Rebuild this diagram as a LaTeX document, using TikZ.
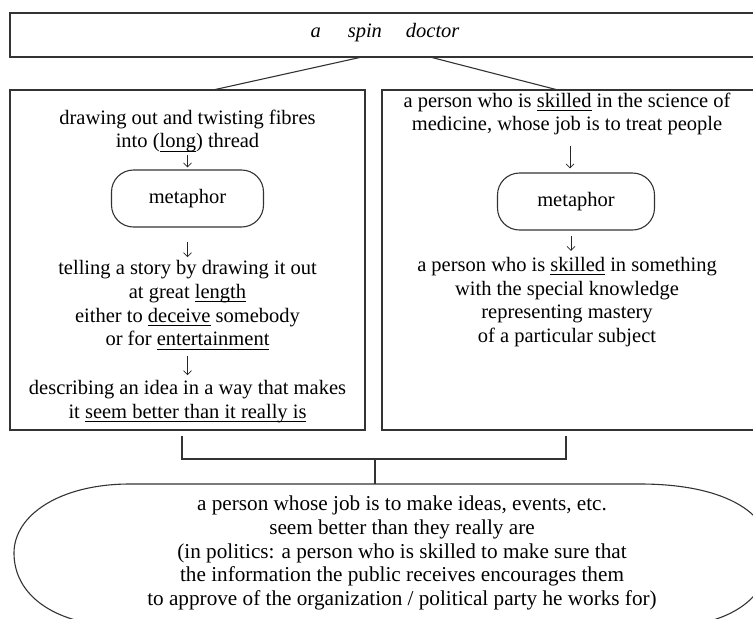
\documentclass[tikz,border=0pt]{standalone}
\usepackage{fontspec}
\usetikzlibrary{arrows.meta}
\setmainfont{Liberation Serif}
% underline at a fixed depth below the baseline
\newcommand{\undl}[1]{\leavevmode\setbox0=\hbox{#1}\rlap{\rule[-3.8pt]{\wd0}{0.9pt}}\box0\relax}
\tikzset{
  frame/.style={draw=black!80, line width=1.1pt},
  link/.style={draw=black!80, line width=1.1pt},
  darrow/.style={draw=black!85, line width=0.7pt, -{Straight Barb[length=4pt, width=8pt]}},
  txt/.style={align=center, inner sep=0pt, font=\fontsize{20.5}{23.8}\selectfont},
  pill/.style={draw=black!80, line width=1.1pt, rounded corners=22pt, minimum width=152pt,
               minimum height=57pt, inner sep=0pt, font=\fontsize{20.5}{23.8}\selectfont},
}
\begin{document}
\begin{tikzpicture}[x=1pt, y=-1pt]
\useasboundingbox (0,0) rectangle (753,619);
\clip (0,0) rectangle (753,619);

% headline box
\draw[frame] (10,13) rectangle (756,57);
\node[txt, font=\fontsize{20.5}{23.8}\selectfont\itshape] (title) at (385,33)
  {a\hspace{27pt}spin\hspace{24pt}doctor};
\coordinate (tl) at (362,57);
\coordinate (tr) at (430,57);

% two sense boxes
\draw[frame] (10,90) rectangle (365,430);
\draw[frame] (382,90) rectangle (756,430);
\coordinate (lt) at (213,90);
\coordinate (rt) at (558,90);
\draw[link] (tl) -- (lt);
\draw[link] (tr) -- (rt);

% left column: spinning
\node[txt] (l1) at (187.5,131) {drawing out and twisting fibres\\into (\undl{long}) thread};
\node[pill] (lm) at (187.5,198.5) {metaphor};
\node[txt] (l2) at (187.5,305) {telling a story by drawing it out\\at great \undl{length}\\either to \undl{deceive} somebody\\or for \undl{entertainment}};
\node[txt] (l3) at (187.5,401.5) {describing an idea in a way that makes\\it \undl{seem better than it really is}};
\draw[darrow, shorten <=2pt, shorten >=2pt] (l1) -- (lm);
\draw[darrow, shorten <=14pt, shorten >=3pt] (lm) -- (l2);
\draw[darrow, shorten <=6pt, shorten >=5pt] (l2) -- (l3);

% right column: doctor
\node[txt] (r1) at (567,114) {a person who is \undl{skilled} in the science of\\medicine, whose job is to treat people};
\node[pill, minimum width=157pt] (rm) at (576,201.5) {metaphor};
\node[txt] (r2) at (567,302) {a person who is \undl{skilled} in something\\with the special knowledge\\representing mastery\\of a particular subject};
\draw[darrow, shorten <=10pt, shorten >=4pt] ([xshift=3pt]r1.south) -- ([xshift=-6pt]rm.north);
\draw[darrow, shorten <=5pt, shorten >=6pt] ([xshift=-5pt]rm.south) -- ([xshift=4pt]r2.north);

% joining bracket
\coordinate (jl) at (182,436);
\coordinate (jr) at (566,436);
\coordinate (jm) at (375,459);
\coordinate (je) at (375,484);
\draw[link] (jl) |- (jm) -| (jr);
\draw[link] (jm) -- (je);

% resulting sense
\draw[frame] (130,484) -- (640,484)
  .. controls (720,484) and (770,510) .. (770,553)
  .. controls (770,592) and (740,618) .. (690,625)
  -- (100,625)
  .. controls (45,618) and (14,590) .. (14,553)
  .. controls (14,515) and (60,484) .. (130,484) -- cycle;
\node[txt, font=\fontsize{21.2}{23.6}\selectfont] (res) at (402,553) {a person whose job is to make ideas, events, etc.\\seem better than they really are\\(in politics: a person who is skilled to make sure that\\the information the public receives encourages them\\to approve of the organization / political party he works for)};
\end{tikzpicture}
\end{document}
